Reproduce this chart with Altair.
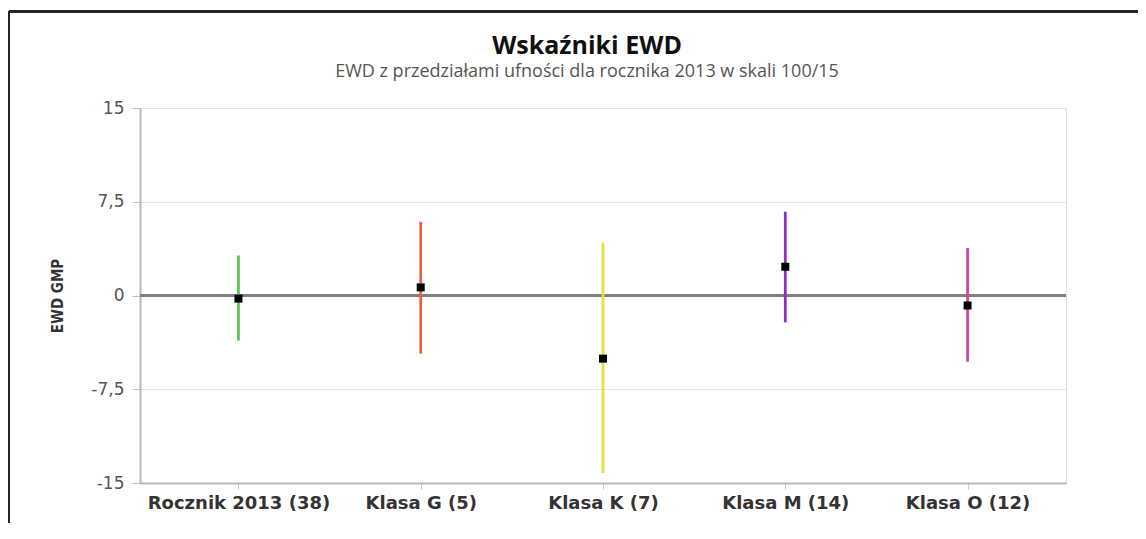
import altair as alt
import pandas as pd

categories = ["Rocznik 2013 (38)", "Klasa G (5)", "Klasa K (7)", "Klasa M (14)", "Klasa O (12)"]
ewd = [-0.25, 0.65, -5.05, 2.3, -0.8]
lower = [-3.6, -4.65, -14.2, -2.15, -5.3]
upper = [3.2, 5.9, 4.25, 6.7, 3.8]
colors = ["#5cc45c", "#e8643c", "#e8e23a", "#8a32c8", "#d8449e"]
y_ticks = [15, 7.5, 0, -7.5, -15]

df = pd.DataFrame({"cat": categories, "ewd": ewd, "low": lower, "high": upper})

W, H = 926, 375
PAD = {"left": 132, "top": 100, "right": 72, "bottom": 40}

x_enc = alt.X(
    "cat:N",
    sort=categories,
    scale=alt.Scale(type="point", padding=0.54),
    axis=alt.Axis(
        title=None,
        labelAngle=0,
        labelFont="DejaVu Sans",
        labelFontWeight="bold",
        labelFontSize=18,
        labelColor="#333333",
        labelPadding=5,
        labelLimit=400,
        labelOverlap=False,
        tickSize=6,
        tickColor="#c8c8c8",
        domainColor="#b8b8b8",
        domainWidth=2,
        grid=False,
    ),
)

y_scale = alt.Scale(domain=[-15, 15], nice=False, zero=False)
y_axis = alt.Axis(
    title="EWD GMP",
    values=y_ticks,
    labelExpr="replace(toString(datum.value), '.', ',')",
    labelFont="DejaVu Sans",
    labelFontSize=17,
    labelColor="#555555",
    labelPadding=8,
    tickSize=8,
    tickColor="#c0c0c0",
    domainColor="#b8b8b8",
    domainWidth=2,
    grid=True,
    gridColor="#e2e2e2",
    gridWidth=1,
    titleFont="Liberation Sans Narrow, DejaVu Sans Condensed, sans-serif",
    titleFontWeight="bold",
    titleFontSize=15,
    titleColor="#333333",
    titleAngle=270,
    titleAlign="center",
    titleBaseline="middle",
    titleX=-83,
    titleY=187.5,
)

bars = alt.Chart(df).mark_rule(strokeWidth=2.8).encode(
    x=x_enc,
    y=alt.Y("low:Q", scale=y_scale, axis=y_axis),
    y2="high:Q",
    color=alt.Color("cat:N", scale=alt.Scale(domain=categories, range=colors), legend=None),
)

zero = alt.Chart(df).mark_rule(color="#808080", strokeWidth=2.5).encode(
    y=alt.datum(0, scale=y_scale)
)

points = alt.Chart(df).mark_square(size=64, color="black", opacity=1).encode(
    x=alt.X("cat:N", sort=categories),
    y=alt.Y("ewd:Q"),
)

frame_top = alt.Chart(df).mark_rule(color="#222222", strokeWidth=2, clip=False).encode(
    x=alt.value(-131), x2=alt.value(W + PAD["right"]), y=alt.value(-96.5)
)
frame_left = alt.Chart(df).mark_rule(color="#222222", strokeWidth=2, clip=False).encode(
    x=alt.value(-131), y=alt.value(-96.5), y2=alt.value(H + PAD["bottom"])
)

chart = (
    alt.layer(zero, bars, points, frame_top, frame_left)
    .properties(
        width=W,
        height=H,
        autosize=alt.AutoSizeParams(type="none"),
        padding=PAD,
        title=alt.TitleParams(
            text="Wskaźniki EWD",
            subtitle="EWD z przedziałami ufności dla rocznika 2013 w skali 100/15",
            anchor="middle",
            dx=-16,
            font="Open Sans",
            fontSize=25,
            fontWeight="bold",
            color="#111111",
            subtitleFont="Open Sans",
            subtitleFontSize=18,
            subtitleColor="#555555",
            subtitlePadding=4,
            offset=-70,
        ),
    )
    .configure_view(stroke="#bdbdbd", strokeWidth=2)
    .configure(background="white")
)

chart.save("out.html", embed_options={"renderer": "svg", "actions": False})
